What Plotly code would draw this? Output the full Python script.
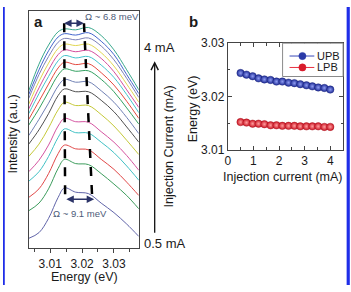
import plotly.graph_objects as go

# ---------------- data ----------------
# panel a: emission spectra (arbitrary units), top curve = 4 mA, bottom = 0.5 mA
energy_grid = [3.0033, 3.0065, 3.0095, 3.0125, 3.0145, 3.018, 3.022, 3.026, 3.030, 3.034, 3.0378]
spectra_currents = ["4.00 mA", "3.77 mA", "3.53 mA", "3.30 mA", "3.07 mA", "2.83 mA", "2.60 mA", "2.37 mA",
                    "2.13 mA", "1.90 mA", "1.67 mA", "1.43 mA", "1.20 mA", "0.97 mA", "0.73 mA", "0.50 mA"]
spectra = [
    [165, 193, 213, 227, 230, 229, 231.5, 223, 208, 187, 166],
    [161, 187, 207, 221.5, 225, 223.5, 226, 217, 203, 182, 162],
    [157, 182, 201, 216, 220, 218.5, 220.5, 212, 197.5, 178, 158],
    [151, 175, 194, 209.5, 214, 212.5, 214, 205, 191, 172, 153],
    [146, 168, 187, 203, 208, 206, 207.5, 199, 185, 166, 147.5],
    [141, 162, 180, 196.5, 202, 199.5, 201, 192, 179, 161, 142],
    [135, 154, 172, 189, 195, 192.5, 193.5, 184, 171, 154, 136],
    [129, 146, 164, 181.5, 188, 185.5, 186, 177, 164, 147, 130],
    [118, 135, 152, 170, 177, 174, 174.5, 165, 153, 137, 120],
    [109, 124, 141, 160, 167, 164, 164, 155, 143, 127, 111],
    [96, 109, 126, 145, 153, 149.5, 149.5, 140, 128, 113, 98],
    [80, 92, 108, 128, 136, 132.5, 132, 122, 111, 97, 81.5],
    [70, 80, 96, 116, 125, 121, 120.5, 111, 100, 86, 71],
    [53, 62, 78, 99, 108, 104, 103, 93, 82.5, 69, 55],
    [39, 47, 62, 83.5, 93, 88.5, 87.5, 78, 67, 55, 41],
    [10, 16, 31, 53, 63, 58.5, 57, 47, 37, 25, 12],
]
spectra_colors = ["#3aa88c", "#4466cc", "#7c80b8", "#e0d650", "#d44c9c", "#44c4cc", "#e44a40", "#33a060",
                  "#7080b4", "#505050", "#c4c838", "#d454a0", "#40c0c4", "#e04848", "#3c9c5c", "#6064a8"]

# dashed guide lines (energy at top, energy at bottom), intensity extent
lpb_guide = [3.0144, 3.0147]
upb_guide = [3.0206, 3.0232]
guide_y = [236, 51]

# panel b: polariton branch energies vs injection current
current = [0.5, 0.73, 0.97, 1.2, 1.43, 1.67, 1.9, 2.13, 2.37, 2.6, 2.83, 3.07, 3.3, 3.53, 3.77, 4.0]
upb = [3.0244, 3.0241, 3.0238, 3.0234, 3.0232, 3.0231, 3.0228, 3.0228, 3.0226, 3.0225, 3.0223,
       3.0221, 3.0219, 3.0217, 3.0216, 3.0213]
lpb = [3.0152, 3.0151, 3.0149, 3.0149, 3.0148, 3.0146, 3.0146, 3.0145, 3.0145, 3.0145, 3.0144,
       3.0144, 3.0144, 3.0144, 3.0143, 3.0143]

# ---------------- figure ----------------
W, H = 351, 292
FONT = "Liberation Sans, Arial, sans-serif"


def px(x):
    return x / W


def py(y):
    return 1 - y / H


fig = go.Figure()

for name, ys, col in zip(spectra_currents, spectra, spectra_colors):
    fig.add_trace(go.Scatter(x=energy_grid, y=ys, mode="lines", name=name, showlegend=False,
                             line=dict(color=col, width=1, shape="spline", smoothing=1.0),
                             xaxis="x", yaxis="y", hoverinfo="skip"))

fig.add_trace(go.Scatter(x=current, y=upb, mode="lines+markers", name="UPB", showlegend=False,
                         line=dict(color="#3a4ab8", width=1),
                         marker=dict(size=7.5, color="#1e2c96", symbol="circle",
                                     gradient=dict(type="radial", color="#8f9cf2"),
                                     line=dict(width=0.4, color="#18227a")),
                         xaxis="x2", yaxis="y2"))
fig.add_trace(go.Scatter(x=current, y=lpb, mode="lines+markers", name="LPB", showlegend=False,
                         line=dict(color="#e83040", width=1),
                         marker=dict(size=7.5, color="#cc1424", symbol="circle",
                                     gradient=dict(type="radial", color="#ff9e9e"),
                                     line=dict(width=0.4, color="#a01018")),
                         xaxis="x2", yaxis="y2"))

shapes = []
# dashed guide lines in panel a
for g in (lpb_guide, upb_guide):
    shapes.append(dict(type="line", xref="x", yref="y", x0=g[0], x1=g[1], y0=guide_y[0], y1=guide_y[1],
                       line=dict(color="black", width=2.5, dash="dash")))
# blue frame edges
shapes.append(dict(type="rect", xref="paper", yref="paper", x0=0, x1=px(1.8), y0=0, y1=1,
                   line=dict(width=0), fillcolor="#1f2ee8"))
shapes.append(dict(type="rect", xref="paper", yref="paper", x0=px(346.6), x1=px(349.8), y0=0, y1=1,
                   line=dict(width=0), fillcolor="#1f2ee8"))
# legend box for panel b
shapes.append(dict(type="rect", xref="paper", yref="paper", x0=px(282), x1=px(343), y0=py(73), y1=py(38),
                   line=dict(color="#8a8a8a", width=1), fillcolor="white"))
for yy, lc, mc in ((51.5, "#3a4ab8", "#2a3aa8"), (63.5, "#e83040", "#d81c2c")):
    shapes.append(dict(type="line", xref="paper", yref="paper", x0=px(289), x1=px(314), y0=py(yy), y1=py(yy),
                       line=dict(color=lc, width=1)))
    shapes.append(dict(type="circle", xref="paper", yref="paper", xsizemode="pixel", ysizemode="pixel",
                       xanchor=px(302), yanchor=py(yy), x0=-3.6, x1=3.6, y0=-3.6, y1=3.6,
                       line=dict(color=mc, width=0.5), fillcolor=mc))

ann = []


def text(x, y, t, size=12.5, angle=0, bold=False, color="#1a1a1a", xanchor="center", ref="paper"):
    d = dict(text=("<b>%s</b>" % t) if bold else t, showarrow=False, textangle=angle,
             font=dict(family=FONT, size=size, color=color), xanchor=xanchor, yanchor="middle",
             borderpad=0)
    if ref == "paper":
        d.update(xref="paper", yref="paper", x=px(x), y=py(y))
    else:
        d.update(xref="x", yref="y", x=x, y=y)
    ann.append(d)


text(36, 15, "a", size=15, bold=True)
text(192, 15, "b", size=15, bold=True)
text(10, 133, "Intensity (a.u.)", angle=-90)
text(82, 284, "Energy (eV)", size=12.5)
text(158, 43, "4 mA", size=13)
text(163, 248, "0.5 mA", size=13)
text(167, 147, "Injection Current (mA)", angle=-90)
text(192, 107, "Energy (eV)", angle=-90)
text(282, 179, "Injection current (mA)")
text(316, 51.5, "UPB", size=11, xanchor="left")
text(316, 63.5, "LPB", size=11, xanchor="left")
text(3.0207, 243, "Ω ~ 6.8 meV", size=9.5, color="#4c5a78", xanchor="left", ref="data")
text(3.0195, 36, "Ω ~ 9.1 meV", size=9.5, color="#4c5a78", ref="data")

# current arrow
ann.append(dict(xref="paper", yref="paper", x=px(153), y=py(57), ax=0, ay=173, text="", showarrow=True,
                arrowhead=5, arrowsize=1.1, arrowwidth=1.3, arrowcolor="#111"))
# splitting arrows in panel a
for (xa, xb, yv) in ((3.0139, 3.0206, 236), (3.0146, 3.0238, 51)):
    ann.append(dict(xref="x", yref="y", axref="x", ayref="y", x=xb, y=yv, ax=xa, ay=yv, text="",
                    showarrow=True, arrowhead=2, startarrowhead=2, arrowside="end+start",
                    arrowsize=1, arrowwidth=1.5, arrowcolor="#2c3468"))

axis_common = dict(showgrid=False, zeroline=False, showline=True, linecolor="#444", linewidth=1)

fig.update_layout(
    width=W, height=H, margin=dict(l=0, r=0, t=0, b=0),
    paper_bgcolor="white", plot_bgcolor="white", showlegend=False,
    font=dict(family=FONT, size=12, color="#1a1a1a"),
    xaxis=dict(domain=[px(26), px(137)], range=[3.0033, 3.0378], anchor="y", mirror=True,
               tickvals=[3.01, 3.02, 3.03], ticktext=["3.01", "3.02", "3.03"], ticks="outside",
               ticklen=4, tickcolor="#444", tickfont=dict(size=12), ticklabelstandoff=1,
               minor=dict(tickvals=[3.005, 3.015, 3.025, 3.035], ticks="outside", ticklen=3, tickcolor="#444"),
               **axis_common),
    yaxis=dict(domain=[py(253), py(4)], range=[0, 249], anchor="x", mirror=True, showticklabels=False,
               ticks="", **axis_common),
    xaxis2=dict(domain=[px(226.7), px(343)], range=[0, 4.5], anchor="y2", mirror="ticks",
                tickvals=[0, 1, 2, 3, 4], ticks="inside", ticklen=4, tickcolor="#444", tickfont=dict(size=12),
                minor=dict(tickvals=[0.5, 1.5, 2.5, 3.5], ticks="inside", ticklen=2.5, tickcolor="#444"),
                **axis_common),
    yaxis2=dict(domain=[py(150), py(38)], range=[3.01, 3.03], anchor="x2", mirror="ticks",
                tickvals=[3.01, 3.02, 3.03], ticktext=["3.01", "3.02", "3.03"], ticks="inside", ticklen=4,
                tickcolor="#444", tickfont=dict(size=12),
                minor=dict(tickvals=[3.015, 3.025], ticks="inside", ticklen=2.5, tickcolor="#444"),
                **axis_common),
    shapes=shapes, annotations=ann,
)

fig.write_html("out.html")
